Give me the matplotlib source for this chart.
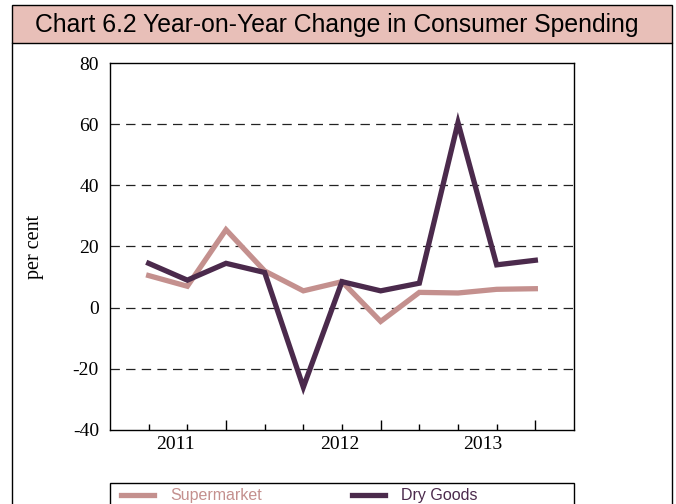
import matplotlib.pyplot as plt
from matplotlib.patches import Rectangle
from matplotlib.lines import Line2D
import numpy as np

quarters = np.arange(11)
supermarket = [10.5, 7.0, 25.5, 12.0, 5.5, 8.5, -4.5, 5.0, 4.8, 6.0, 6.2]
dry_goods = [14.5, 9.0, 14.5, 11.5, -26.0, 8.5, 5.5, 8.0, 60.5, 14.0, 15.5]
year_labels = ['2011', '2012', '2013']
year_pos = [0.7, 4.95, 8.65]
major_ticks = [2, 6, 10]
minor_ticks = [0, 1, 3, 4, 5, 7, 8, 9]
yticks = [-40, -20, 0, 20, 40, 60, 80]

c_super = '#c4908e'
c_dry = '#4b2a4c'
serif = 'Liberation Serif'
sans = 'Liberation Sans'

fig = plt.figure(figsize=(6.76, 5.04), dpi=100)

# title banner + outer frame
fig.patches.append(Rectangle((12/676, 1-43/504), 660/676, 38/504, transform=fig.transFigure,
                             facecolor='#e8bfb8', edgecolor='black', linewidth=1.0))
fig.lines.append(Line2D([12/676, 12/676], [0, 1-43/504], transform=fig.transFigure, color='black', lw=1.0))
fig.lines.append(Line2D([672/676, 672/676], [0, 1-43/504], transform=fig.transFigure, color='black', lw=1.0))
fig.text(35/676, 1-25/504, 'Chart 6.2 Year-on-Year Change in Consumer Spending',
         family=sans, fontsize=17.8, va='center', ha='left')

ax = fig.add_axes([110/676, 1-430/504, 464/676, 367/504])
ax.plot(quarters, supermarket, color=c_super, lw=3.8, label='Supermarket', solid_joinstyle='miter')
ax.plot(quarters, dry_goods, color=c_dry, lw=3.8, label='Dry Goods', solid_joinstyle='miter')

ax.set_xlim(-1, 11)
ax.set_ylim(-40, 80)
ax.set_yticks(yticks)
ax.set_yticklabels([str(v) for v in yticks], family=serif, fontsize=14)
ax.tick_params(axis='y', length=0, pad=8)
for v in yticks[1:-1]:
    ax.axhline(v, color='#222222', lw=0.9, dashes=(7.5, 5), zorder=0)

ax.set_xticks(major_ticks)
ax.set_xticks(minor_ticks, minor=True)
ax.set_xticklabels([])
ax.tick_params(axis='x', which='major', direction='in', length=7.5, width=1)
ax.tick_params(axis='x', which='minor', direction='in', length=4.5, width=1)
for lab, p in zip(year_labels, year_pos):
    ax.text(p, -0.016, lab, transform=ax.get_xaxis_transform(), ha='center', va='top',
            family=serif, fontsize=14)

for s in ax.spines.values():
    s.set_linewidth(1.0)

ax.set_ylabel('per cent', family=serif, fontsize=14.5)
ax.yaxis.set_label_coords(-66/464, 0.5)

# legend box spans the axes width and runs off the bottom of the page
ax.add_patch(Rectangle((0, -90/367), 1, 37/367, transform=ax.transAxes, clip_on=False,
                       facecolor='white', edgecolor='black', linewidth=1.0))
leg = ax.legend(loc='upper left', bbox_to_anchor=(0, -47/367), ncol=2, frameon=False,
                borderpad=0.7, borderaxespad=0, columnspacing=5.6,
                handlelength=2.05, handletextpad=1.05, prop={'family': sans, 'size': 11.5})
for t, c in zip(leg.get_texts(), [c_super, c_dry]):
    t.set_color(c)

fig.savefig('out.png', dpi=100)
